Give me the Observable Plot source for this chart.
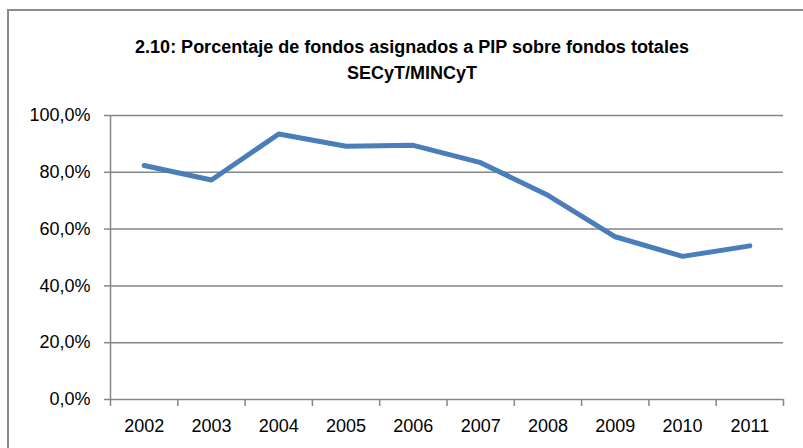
<!DOCTYPE html>
<html>
<head>
<meta charset="utf-8">
<script src="https://cdn.jsdelivr.net/npm/d3@7"></script>
<script src="https://cdn.jsdelivr.net/npm/@observablehq/plot@0.6"></script>
<style>
  html, body { margin: 0; padding: 0; background: #fff; overflow: hidden; }
  #wrap { position: relative; width: 803px; height: 448px; overflow: hidden; }
  #frame { position: absolute; left: 7px; top: 9px; width: 810px; height: 460px;
           border: 2px solid #8c8c8c; box-sizing: border-box; }
  #title { position: absolute; left: 0; width: 824px; top: 34px; text-align: center;
           font-family: "Liberation Sans", Arial, sans-serif; font-weight: bold;
           font-size: 18px; line-height: 26px; color: #000; }
  #chart { position: absolute; left: 0; top: 0; }
</style>
</head>
<body>
<div id="wrap">
  <div id="frame"></div>
  <div id="title">2.10: Porcentaje de fondos asignados a PIP sobre fondos totales<br>SECyT/MINCyT</div>
  <div id="chart"></div>
</div>
<script>
const years = [2002, 2003, 2004, 2005, 2006, 2007, 2008, 2009, 2010, 2011];
const values = [0.824, 0.773, 0.935, 0.892, 0.895, 0.834, 0.719, 0.573, 0.504, 0.541];
const yTicks = [0, 0.2, 0.4, 0.6, 0.8, 1.0];

const data = years.map((y, i) => ({year: y, value: values[i]}));
const boundaries = [years[0] - 0.5, ...years.map(y => y + 0.5)];
const fmt = d => (d * 100).toFixed(1).replace(".", ",") + "%";
const gray = "#868686";

const chart = Plot.plot({
  width: 803,
  height: 448,
  marginLeft: 110,
  marginRight: 20,
  marginTop: 115,
  marginBottom: 49,
  style: {fontFamily: "Liberation Sans, Arial, sans-serif", fontSize: "18px", color: "#000", background: "transparent"},
  x: {type: "linear", domain: [years[0] - 0.5, years[years.length - 1] + 0.5]},
  y: {domain: [0, 1]},
  marks: [
    Plot.gridY(yTicks, {stroke: gray, strokeOpacity: 1, strokeWidth: 1.5}),
    Plot.ruleX([boundaries[0]], {stroke: gray, strokeWidth: 1.5}),
    Plot.axisY(yTicks, {tickSize: 6, tickPadding: 14, tickFormat: fmt, stroke: gray, strokeWidth: 1.5, fill: "#000", fontSize: 18, label: null}),
    Plot.axisX(boundaries, {tickSize: 7, tickFormat: () => "", stroke: gray, strokeWidth: 1.5, label: null}),
    Plot.axisX(years, {tickSize: 0, tickPadding: 20, tickFormat: d => String(d), fill: "#000", fontSize: 18, label: null}),
    Plot.line(data, {x: "year", y: "value", stroke: "#4a7ebb", strokeWidth: 5, strokeLinecap: "round", strokeLinejoin: "round"})
  ]
});
document.getElementById("chart").appendChild(chart);
</script>
</body>
</html>
